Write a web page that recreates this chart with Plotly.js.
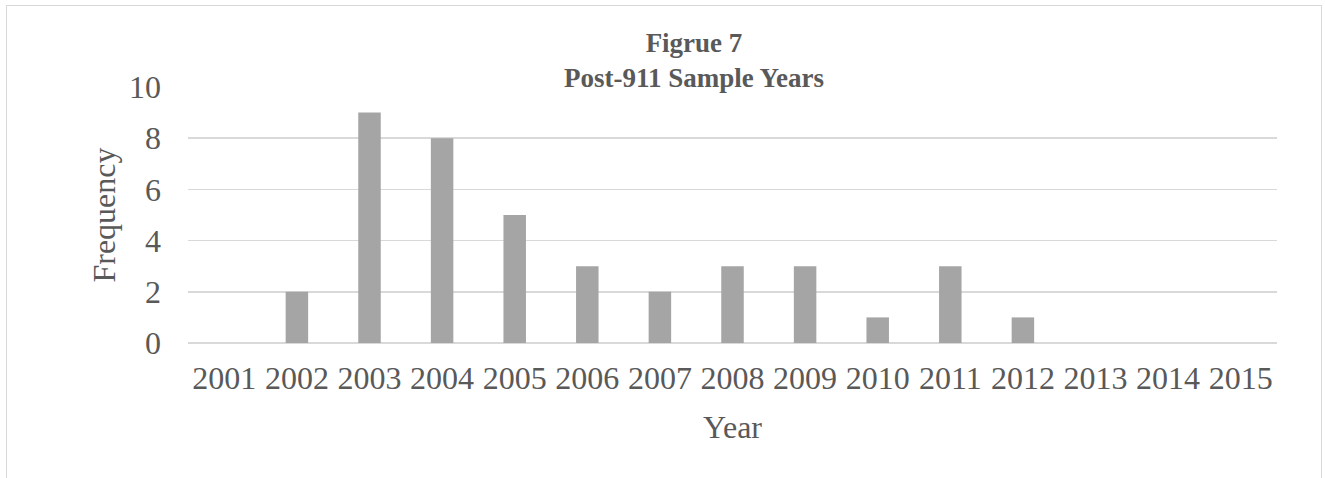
<!DOCTYPE html>
<html>
<head>
<meta charset="utf-8">
<script src="https://cdn.plot.ly/plotly-3.0.1.min.js"></script>
<style>
  html, body { margin: 0; padding: 0; background: #fff; overflow: hidden; }
  #wrap { position: relative; width: 1325px; height: 478px; }
  #chart { position: absolute; left: 0; top: 0; width: 1325px; height: 478px; }
  #frame { position: absolute; left: 6px; top: 5px; width: 1316px; height: 500px;
           border: 1px solid #d9d9d9; pointer-events: none; box-sizing: border-box; }
</style>
</head>
<body>
<div id="wrap">
  <div id="chart"></div>
  <div id="frame"></div>
</div>
<script>
const years = ["2001","2002","2003","2004","2005","2006","2007","2008","2009","2010","2011","2012","2013","2014","2015"];
const frequency = [0, 2, 9, 8, 5, 3, 2, 3, 3, 1, 3, 1, 0, 0, 0];
const yTicks = [0, 2, 4, 6, 8, 10];
const titleText = "<b>Figrue 7</b><br><b>Post-911 Sample Years</b>";
const xTitle = "Year";
const yTitle = "Frequency";

const font = "Liberation Serif, Times New Roman, serif";

Plotly.newPlot("chart", [{
  type: "bar",
  x: years,
  y: frequency,
  marker: { color: "#a5a5a5" },
  hoverinfo: "x+y"
}], {
  width: 1325, height: 478,
  margin: { l: 188, r: 48, t: 87, b: 135 },
  paper_bgcolor: "#ffffff",
  plot_bgcolor: "#ffffff",
  bargap: 0.69,
  showlegend: false,
  font: { family: font, color: "#595959" },
  title: {
    text: titleText,
    font: { family: font, size: 27, color: "#595959" },
    x: 694 / 1325, xanchor: "center",
    y: 1 - 52 / 478, yanchor: "middle"
  },
  xaxis: {
    type: "category",
    tickvals: years,
    ticktext: years,
    tickfont: { size: 32, color: "#595959" },
    showgrid: false,
    showline: false,
    ticks: "",
    ticklabelstandoff: 13,
    title: { text: xTitle, font: { size: 32, color: "#595959" }, standoff: 20 }
  },
  yaxis: {
    range: [0, 10],
    tickvals: yTicks,
    tickfont: { size: 32, color: "#595959" },
    gridcolor: "#d9d9d9",
    gridwidth: 1.5,
    zeroline: true,
    zerolinecolor: "#d9d9d9",
    zerolinewidth: 1.5,
    showline: false,
    ticks: "",
    ticklabelstandoff: 26,
    title: { text: yTitle, font: { size: 32, color: "#595959" }, standoff: 3 }
  }
}, { staticPlot: true, displayModeBar: false });
</script>
</body>
</html>
